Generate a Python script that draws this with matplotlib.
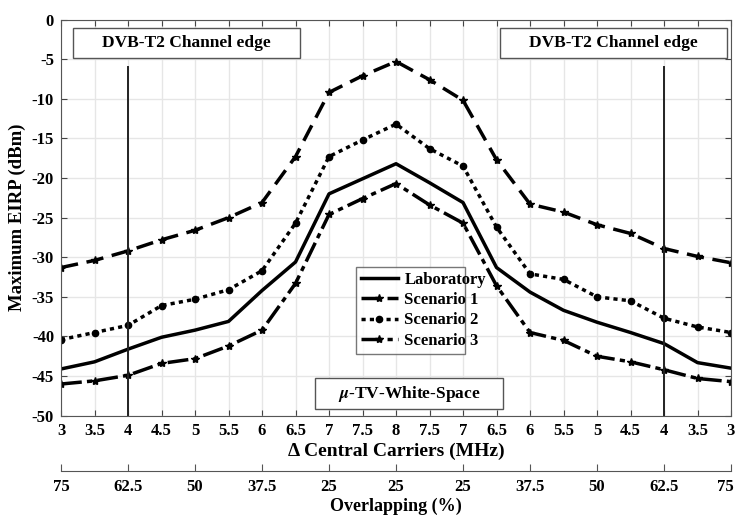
import numpy as np
import matplotlib
matplotlib.use("Agg")
import matplotlib.pyplot as plt
import matplotlib.transforms as mtransforms

plt.rcParams['font.family'] = 'Liberation Serif'
plt.rcParams['font.weight'] = 'bold'
plt.rcParams['mathtext.fontset'] = 'stix'
plt.rcParams['axes.unicode_minus'] = False

# Dados
carriers = ['3', '3.5', '4', '4.5', '5', '5.5', '6', '6.5', '7', '7.5', '8',
            '7.5', '7', '6.5', '6', '5.5', '5', '4.5', '4', '3.5', '3']
overlap = ['75', '62.5', '50', '37.5', '25', '25', '25', '37.5', '50', '62.5', '75']

lab = [-44.1, -43.2, -41.6, -40.1, -39.2, -38.1, -34.2, -30.6, -22.0, -20.1, -18.2,
       -20.6, -23.1, -31.3, -34.4, -36.7, -38.2, -39.5, -40.9, -43.3, -44.0]
sc1 = [-31.3, -30.4, -29.2, -27.8, -26.6, -25.0, -23.1, -17.3, -9.2, -7.1, -5.3,
       -7.6, -10.2, -17.7, -23.3, -24.3, -25.9, -27.0, -28.9, -29.9, -30.7]
sc2 = [-40.4, -39.5, -38.6, -36.1, -35.3, -34.1, -31.7, -25.7, -17.3, -15.2, -13.2,
       -16.3, -18.5, -26.2, -32.1, -32.8, -35.0, -35.5, -37.7, -38.8, -39.5]
sc3 = [-46.0, -45.6, -44.9, -43.4, -42.8, -41.2, -39.2, -33.3, -24.6, -22.6, -20.7,
       -23.4, -25.7, -33.6, -39.5, -40.5, -42.5, -43.2, -44.2, -45.3, -45.7]

xx = np.arange(len(carriers))
edges = [2, 18]

fig = plt.figure(figsize=(7.37, 5.19), dpi=100)
ax = fig.add_axes([0.0828, 0.199, 0.9091, 0.7634])

ax.plot(xx, lab, label="Laboratory", linestyle='-', linewidth=2.5, color="black")
ax.plot(xx, sc1, label="Scenario 1", linestyle=(0, (5, 2.5)), linewidth=2.5,
        color="black", marker='*', markersize=6)
ax.plot(xx, sc2, label="Scenario 2", linestyle=(0, (1.2, 1.2)), linewidth=2.5,
        color="black", marker='o', markersize=4.5)
ax.plot(xx, sc3, label="Scenario 3", linestyle=(0, (6, 1.5, 1.5, 1.5)), linewidth=2.5,
        color="black", marker='*', markersize=6)

for e in edges:
    ax.plot([e, e], [-6, -50], color="#222222", linewidth=1.4)

ax.set_xlim(0, 20)
ax.set_ylim(-50, 0)
ax.set_xticks(xx)
ax.set_xticklabels(carriers)
ax.set_yticks(np.arange(-50, 1, 5))
ax.tick_params(direction='in', top=True, right=True, labelsize=12, length=4,
               color='#444444', pad=5)
for lbl in ax.get_xticklabels() + ax.get_yticklabels():
    lbl.set_fontweight('bold')
ax.grid(color='#e6e6e6', linewidth=1)
for s in ax.spines.values():
    s.set_color('#555555')
ax.set_xlabel("Δ Central Carriers (MHz)", fontsize=14, fontweight='bold', labelpad=3)
ax.set_ylabel("Maximum EIRP (dBm)", fontsize=13.5, fontweight='bold', labelpad=4)

# Caixas de texto
boxes = [(0.36, 7.13, -1.07, -4.86, "DVB-T2 Channel edge"),
         (13.1, 19.88, -1.07, -4.86, "DVB-T2 Channel edge"),
         (7.58, 13.19, -45.26, -49.2, r"$\mu$-TV-White-Space")]
for x0, x1, y0, y1, txt in boxes:
    ax.add_patch(plt.Rectangle((x0, y1), x1 - x0, y0 - y1, facecolor='white',
                               edgecolor='#555555', linewidth=1, zorder=3))
    ax.text((x0 + x1) / 2, (y0 + y1) / 2, txt, ha='center', va='center',
            fontsize=12.5, fontweight='bold', zorder=4)

leg = ax.legend(loc='lower left', bbox_to_anchor=(0.428, 0.136, 0.187, 0.229),
                mode='expand', fontsize=12, frameon=True, fancybox=False,
                handlelength=2.2, borderpad=0.3, labelspacing=0.25, handletextpad=0.4)
leg.get_frame().set_edgecolor('#555555')
leg.get_frame().set_linewidth(1)
for t in leg.get_texts():
    t.set_fontweight('bold')

# Eixo secundário (Overlapping)
ax2 = fig.add_axes([0.0828, 0.0925, 0.9091, 0.001])
ax2.set_xlim(0, 20)
ax2.set_ylim(0, 1)
ax2.set_yticks([])
for k in ['top', 'left', 'right']:
    ax2.spines[k].set_visible(False)
ax2.spines['bottom'].set_color('#555555')
ax2.patch.set_alpha(0)
ax2.set_xticks(xx[::2])
ax2.set_xticklabels(overlap)
ax2.tick_params(axis='x', direction='in', length=5, labelsize=12, color='#555555', pad=6)
for lbl in ax2.get_xticklabels():
    lbl.set_fontweight('bold')
# desloca os rótulos das pontas para não cortar
ax2.get_xticklabels()[-1].set_transform(
    ax2.get_xticklabels()[-1].get_transform()
    + mtransforms.ScaledTranslation(-6 / 100, 0, fig.dpi_scale_trans))
ax.get_xticklabels()[-1].set_transform(
    ax.get_xticklabels()[-1].get_transform()
    + mtransforms.ScaledTranslation(-1 / 100, 0, fig.dpi_scale_trans))
ax2.set_xlabel("Overlapping (%)", fontsize=13, fontweight='bold', labelpad=2)

fig.savefig("out.png", dpi=100)
